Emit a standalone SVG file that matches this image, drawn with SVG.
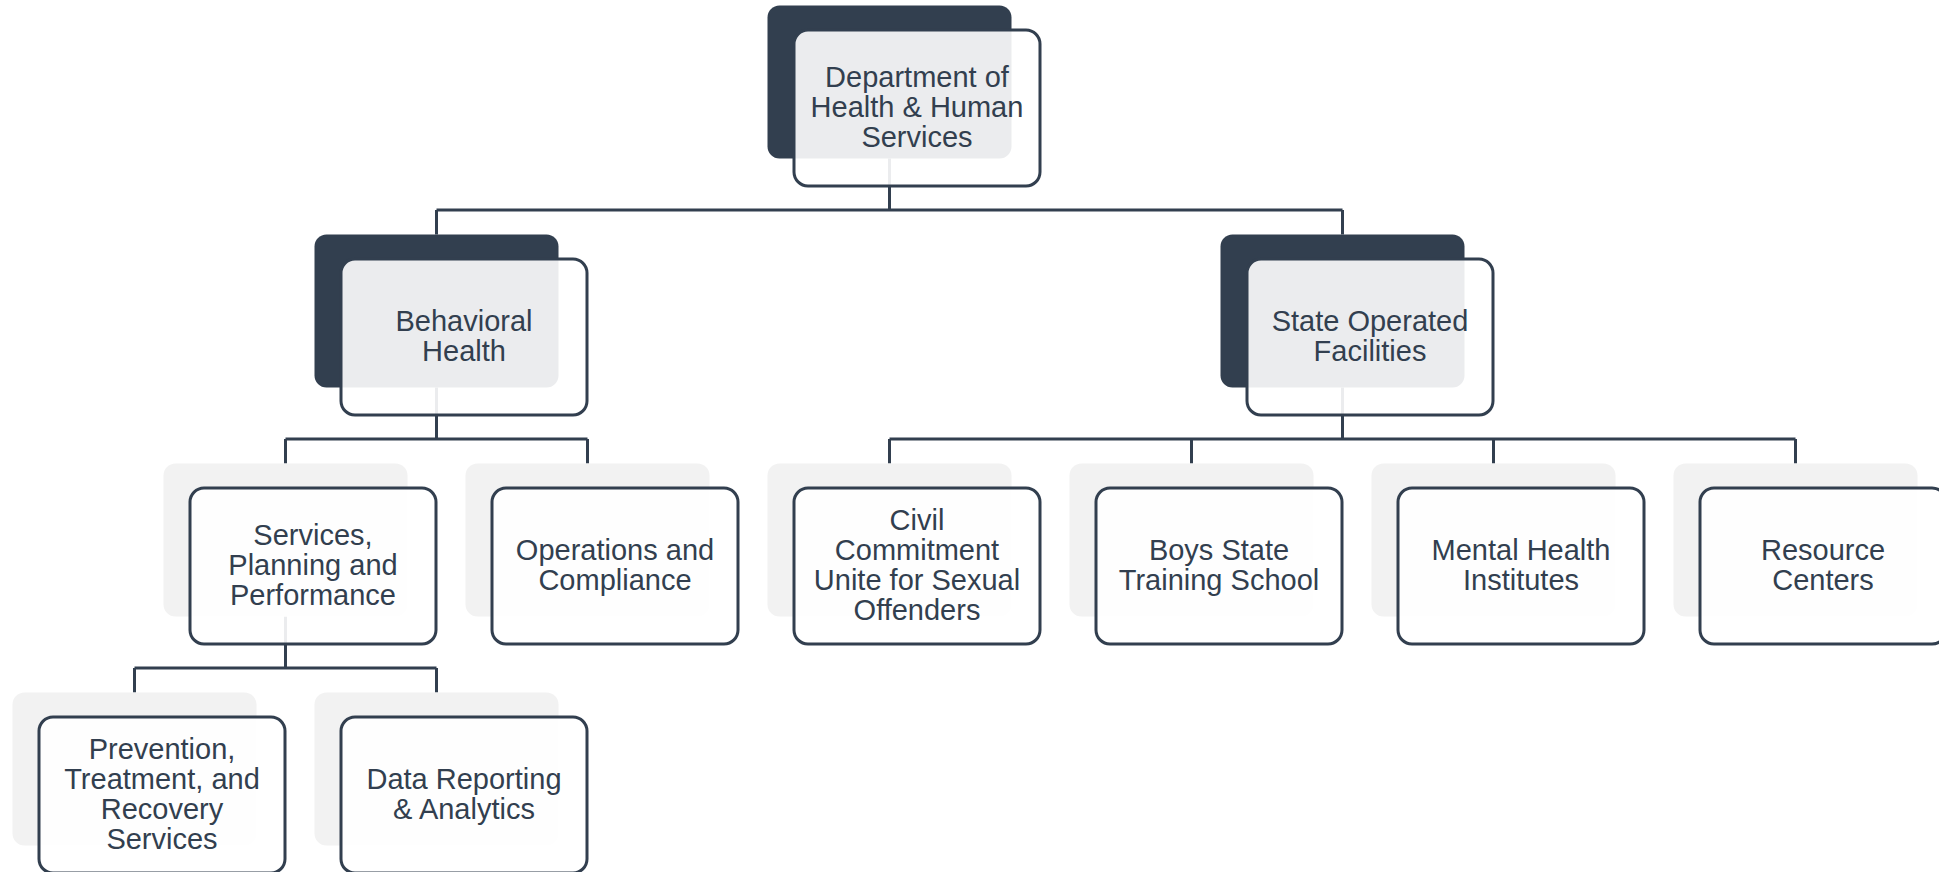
<svg xmlns="http://www.w3.org/2000/svg" width="1939" height="872" viewBox="0 0 1939 872">
<style>
.dark{fill:#323f4f}
.light{fill:#f2f2f2}
.front{fill:#ffffff;fill-opacity:0.9;stroke:#323f4f;stroke-width:3}
.conn{fill:none;stroke:#323f4f;stroke-width:3}
text{font-family:"Liberation Sans",Arial,sans-serif;font-size:29px;fill:#323f4f;text-anchor:middle}
</style>
<rect width="1939" height="872" fill="#ffffff"/>
<g id="connectors">
<path class="conn" d="M889.5 158.5V210M436.5 210H1342.5M436.5 210V234.5M1342.5 210V234.5"/>
<path class="conn" d="M436.5 387.5V439M285.5 439H587.5M285.5 439V463.5M587.5 439V463.5"/>
<path class="conn" d="M1342.5 387.5V439M889.5 439H1795.5M889.5 439V463.5M1191.5 439V463.5M1493.5 439V463.5M1795.5 439V463.5"/>
<path class="conn" d="M285.5 616.5V668M134.5 668H436.5M134.5 668V692.5M436.5 668V692.5"/>
</g>
<g id="n-dhhs">
<rect class="dark" x="767.5" y="5.5" width="244" height="153" rx="12"/>
<rect class="front" x="794" y="30" width="246" height="156" rx="14"/>
<text x="917" y="87">Department of</text>
<text x="917" y="117">Health &amp; Human</text>
<text x="917" y="147">Services</text>
</g>
<g id="n-bh">
<rect class="dark" x="314.5" y="234.5" width="244" height="153" rx="12"/>
<rect class="front" x="341" y="259" width="246" height="156" rx="14"/>
<text x="464" y="331">Behavioral</text>
<text x="464" y="361">Health</text>
</g>
<g id="n-sof">
<rect class="dark" x="1220.5" y="234.5" width="244" height="153" rx="12"/>
<rect class="front" x="1247" y="259" width="246" height="156" rx="14"/>
<text x="1370" y="331">State Operated</text>
<text x="1370" y="361">Facilities</text>
</g>
<g id="n-spp">
<rect class="light" x="163.5" y="463.5" width="244" height="153" rx="12"/>
<rect class="front" x="190" y="488" width="246" height="156" rx="14"/>
<text x="313" y="545">Services,</text>
<text x="313" y="575">Planning and</text>
<text x="313" y="605">Performance</text>
</g>
<g id="n-oc">
<rect class="light" x="465.5" y="463.5" width="244" height="153" rx="12"/>
<rect class="front" x="492" y="488" width="246" height="156" rx="14"/>
<text x="615" y="560">Operations and</text>
<text x="615" y="590">Compliance</text>
</g>
<g id="n-ccu">
<rect class="light" x="767.5" y="463.5" width="244" height="153" rx="12"/>
<rect class="front" x="794" y="488" width="246" height="156" rx="14"/>
<text x="917" y="530">Civil</text>
<text x="917" y="560">Commitment</text>
<text x="917" y="590">Unite for Sexual</text>
<text x="917" y="620">Offenders</text>
</g>
<g id="n-bsts">
<rect class="light" x="1069.5" y="463.5" width="244" height="153" rx="12"/>
<rect class="front" x="1096" y="488" width="246" height="156" rx="14"/>
<text x="1219" y="560">Boys State</text>
<text x="1219" y="590">Training School</text>
</g>
<g id="n-mhi">
<rect class="light" x="1371.5" y="463.5" width="244" height="153" rx="12"/>
<rect class="front" x="1398" y="488" width="246" height="156" rx="14"/>
<text x="1521" y="560">Mental Health</text>
<text x="1521" y="590">Institutes</text>
</g>
<g id="n-rc">
<rect class="light" x="1673.5" y="463.5" width="244" height="153" rx="12"/>
<rect class="front" x="1700" y="488" width="246" height="156" rx="14"/>
<text x="1823" y="560">Resource</text>
<text x="1823" y="590">Centers</text>
</g>
<g id="n-ptr">
<rect class="light" x="12.5" y="692.5" width="244" height="153" rx="12"/>
<rect class="front" x="39" y="717" width="246" height="156" rx="14"/>
<text x="162" y="759">Prevention,</text>
<text x="162" y="789">Treatment, and</text>
<text x="162" y="819">Recovery</text>
<text x="162" y="849">Services</text>
</g>
<g id="n-dra">
<rect class="light" x="314.5" y="692.5" width="244" height="153" rx="12"/>
<rect class="front" x="341" y="717" width="246" height="156" rx="14"/>
<text x="464" y="789">Data Reporting</text>
<text x="464" y="819">&amp; Analytics</text>
</g>
</svg>
